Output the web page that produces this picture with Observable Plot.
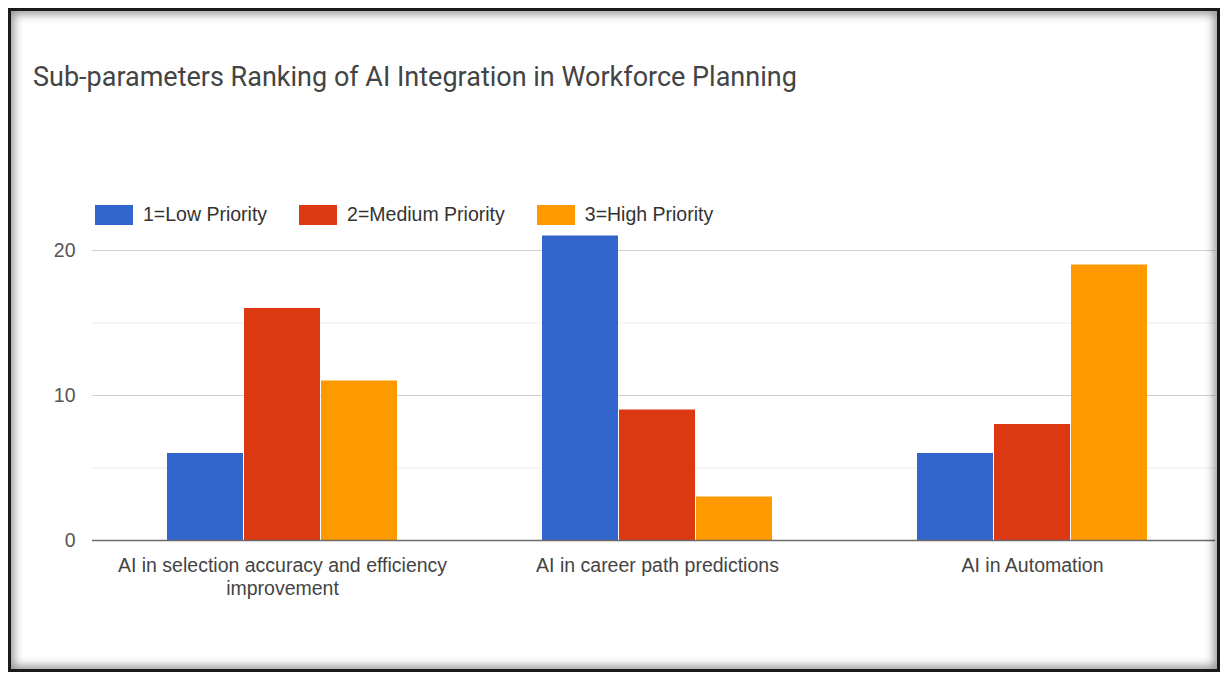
<!DOCTYPE html>
<html>
<head>
<meta charset="utf-8">
<script src="https://cdn.jsdelivr.net/npm/d3@7"></script>
<script src="https://cdn.jsdelivr.net/npm/@observablehq/plot@0.6"></script>
<style>
  html, body { margin: 0; padding: 0; background: #fff; }
  #page { position: relative; width: 1221px; height: 674px; overflow: hidden; background: #fff; }
  #frame { position: absolute; left: 8px; top: 8px; width: 1206px; height: 658px;
           border: 3px solid #1a1a1a; box-shadow: inset 0 0 10px 3px rgba(0,0,0,0.42); pointer-events: none; z-index: 5; }
  #title { position: absolute; left: 33px; top: 61px; font-family: Roboto, "Noto Sans", sans-serif;
           font-size: 27px; color: #444; white-space: nowrap; }
  #legend { position: absolute; left: 95px; top: 203px; }
  #chart { position: absolute; left: 0; top: 221px; }
  div.lg-swatches { font-family: "Liberation Sans", Arial, sans-serif; font-size: 19.5px; color: #333; min-height: 22px; margin: 0 !important; }
  div.lg-swatches .lg-swatch { margin-right: 32px !important; }
  div.lg-swatches .lg-swatch > svg { margin-right: 10px !important; }
</style>
</head>
<body>
<div id="page">
  <div id="title"></div>
  <div id="legend"></div>
  <div id="chart"></div>
  <div id="frame"></div>
</div>
<script>
const titleText = "Sub-parameters Ranking of AI Integration in Workforce Planning";
const groups = [
  "AI in selection accuracy and efficiency improvement",
  "AI in career path predictions",
  "AI in Automation"
];
const groupLabels = [
  "AI in selection accuracy and efficiency\nimprovement",
  "AI in career path predictions",
  "AI in Automation"
];
const series = ["1=Low Priority", "2=Medium Priority", "3=High Priority"];
const lowPriority = [6, 21, 6];
const mediumPriority = [16, 9, 8];
const highPriority = [11, 3, 19];
const seriesColors = ["#3366cc", "#dc3912", "#ff9900"];
const majorTicks = [0, 10, 20];
const minorTicks = [5, 15];

const valuesBySeries = [lowPriority, mediumPriority, highPriority];
const rows = [];
series.forEach((s, si) => groups.forEach((g, gi) => rows.push({group: g, series: s, value: valuesBySeries[si][gi]})));

document.getElementById("title").textContent = titleText;

const colorScale = {domain: series, range: seriesColors};

const barW = 77;
const step = 375;
const padInner = 1 - barW / step;

const barMarks = series.map((s, i) =>
  Plot.barY(rows.filter(d => d.series === s), {
    x: "group", y: "value", fill: "series", dx: (i - 1) * barW, insetLeft: 0.5, insetRight: 0.5
  })
);

const chart = Plot.plot({
  width: 1221,
  height: 400,
  marginTop: 0,
  marginBottom: 81,
  marginLeft: 92,
  marginRight: 6,
  style: {background: "transparent", fontFamily: "'Liberation Sans', Arial, sans-serif", color: "#444"},
  x: {domain: groups, range: [94.5, 1219.5], paddingInner: padInner, paddingOuter: padInner / 2, round: false},
  y: {domain: [0, 22]},
  color: colorScale,
  marks: [
    Plot.ruleY(minorTicks, {stroke: "#ececec", strokeWidth: 1}),
    Plot.ruleY(majorTicks.filter(t => t !== 0), {stroke: "#d0d0d0", strokeWidth: 1.2}),
    ...barMarks,
    Plot.ruleY([0], {stroke: "#6a6a6a", strokeWidth: 1.6}),
    Plot.axisY({ticks: majorTicks, tickSize: 0, tickPadding: 17, fontSize: 19.5, fill: "#555", label: null}),
    Plot.axisX({tickSize: 0, tickPadding: 15, fontSize: 19.5, fill: "#444", label: null, lineHeight: 1.17,
                tickFormat: g => groupLabels[groups.indexOf(g)]})
  ]
});
document.getElementById("chart").appendChild(chart);

const legend = Plot.legend({
  color: colorScale,
  legend: "swatches",
  swatchWidth: 38,
  swatchHeight: 20,
  className: "lg"
});
document.getElementById("legend").appendChild(legend);
</script>
</body>
</html>
